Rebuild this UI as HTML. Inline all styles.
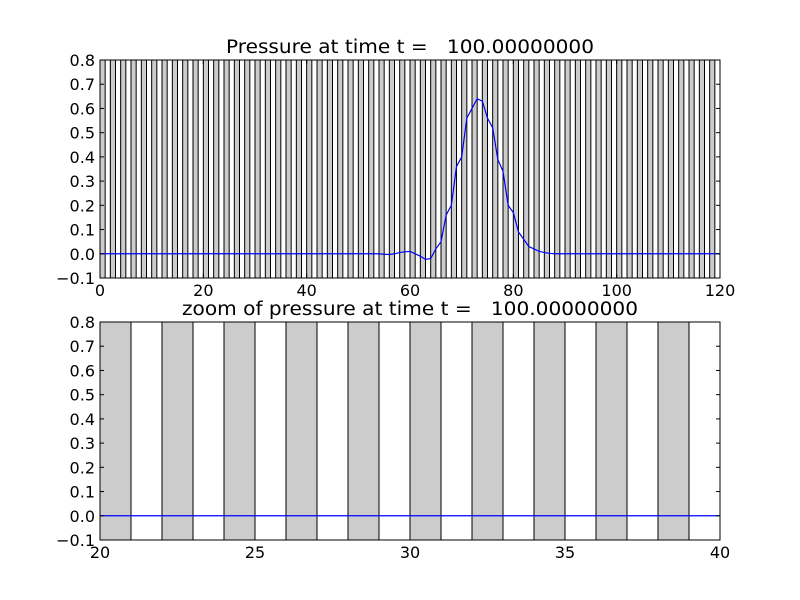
<!DOCTYPE html>
<html><head><meta charset="utf-8"><style>body{margin:0;background:#fff}svg{display:block;font-family:"DejaVu Sans","Liberation Sans",sans-serif}</style></head>
<body>
<svg id="c" width="800" height="600"></svg>
<script>
const xs = [];
for (let i = 0; i <= 120; i++) xs.push(i);
const pressure = [0,0,0,0,0,0,0,0,0,0, 0,0,0,0,0,0,0,0,0,0, 0,0,0,0,0,0,0,0,0,0, 0,0,0,0,0,0,0,0,0,0, 0,0,0,0,0,0,0,0,0,0,
 0,0,0,0,0,-0.002,-0.003,0,0.005,0.008, 0.01,0,-0.01,-0.023,-0.02,0.02,0.05,0.16,0.2,0.36,
 0.4,0.56,0.6,0.64,0.63,0.56,0.52,0.39,0.34,0.2, 0.17,0.09,0.06,0.03,0.02,0.01,0.005,0.002,0,0,
 0,0,0,0,0,0,0,0,0,0, 0,0,0,0,0,0,0,0,0,0, 0,0,0,0,0,0,0,0,0,0, 0];
const yTicks = [-0.1,0,0.1,0.2,0.3,0.4,0.5,0.6,0.7,0.8];
const topXTicks = [0,20,40,60,80,100,120];
const botXTicks = [20,25,30,35,40];

const svg = document.getElementById('c');
const NS = 'http://www.w3.org/2000/svg';
function mk(tag, attrs, parent){const e=document.createElementNS(NS,tag);for(const k in attrs)e.setAttribute(k,attrs[k]);(parent||svg).appendChild(e);return e;}

function panel(name, top, bottom, x0, x1, xt, title, titleLen){
  const L=100,R=720;
  const sx=v=>L+(v-x0)/(x1-x0)*(R-L);
  const sy=v=>bottom-(v+0.1)/0.9*(bottom-top);
  const g=mk('g',{});
  
  
  const cid='clip-'+name;
  const cp=mk('clipPath',{id:cid},g);mk('rect',{x:L,y:top,width:R-L,height:bottom-top},cp);
  const bars=mk('g',{'clip-path':'url(#'+cid+')'},g);
  for(let k=Math.floor(x0);k<x1;k+=2){
    const r=mk('rect',{x:sx(k),y:top,width:sx(k+1)-sx(k),height:bottom-top,fill:'#cccccc',stroke:'#000','stroke-width':1},bars);
    
    
  }
  let d='';xs.forEach((x,i)=>{d+=(i?'L':'M')+sx(x).toFixed(2)+' '+sy(pressure[i]).toFixed(2);});
  const ln=mk('path',{d:d,fill:'none',stroke:'#0000ff','stroke-width':1.2,'clip-path':'url(#'+cid+')'},g);
  
  
  mk('rect',{x:L,y:top,width:R-L,height:bottom-top,fill:'none',stroke:'#000','stroke-width':1},g);
  yTicks.forEach(v=>{const y=sy(v);
    mk('line',{x1:L,x2:L+4,y1:y,y2:y,stroke:'#000'},g);mk('line',{x1:R,x2:R-4,y1:y,y2:y,stroke:'#000'},g);
    const t=mk('text',{x:L-5,y:y+6,'text-anchor':'end','font-size':16},g);t.textContent=v.toFixed(1).replace('-','\u2212');
    
    
  });
  xt.forEach(v=>{const x=sx(v);
    mk('line',{x1:x,x2:x,y1:bottom,y2:bottom-4,stroke:'#000'},g);mk('line',{x1:x,x2:x,y1:top,y2:top+4,stroke:'#000'},g);
    const t=mk('text',{x:x,y:bottom+18,'text-anchor':'middle','font-size':16},g);t.textContent=v;
    
    
  });
  const tt=mk('text',{x:410,y:top-7,'text-anchor':'middle','font-size':18.5,textLength:titleLen,lengthAdjust:'spacingAndGlyphs'},g);tt.textContent=title;
  
  
  tt.style.whiteSpace='pre';
}
panel('pressure-panel',60,278,0,120,topXTicks,'Pressure at time t =   100.00000000',368);
panel('zoom-panel',322,540,20,40,botXTicks,'zoom of pressure at time t =   100.00000000',456);
</script>
</body></html>
